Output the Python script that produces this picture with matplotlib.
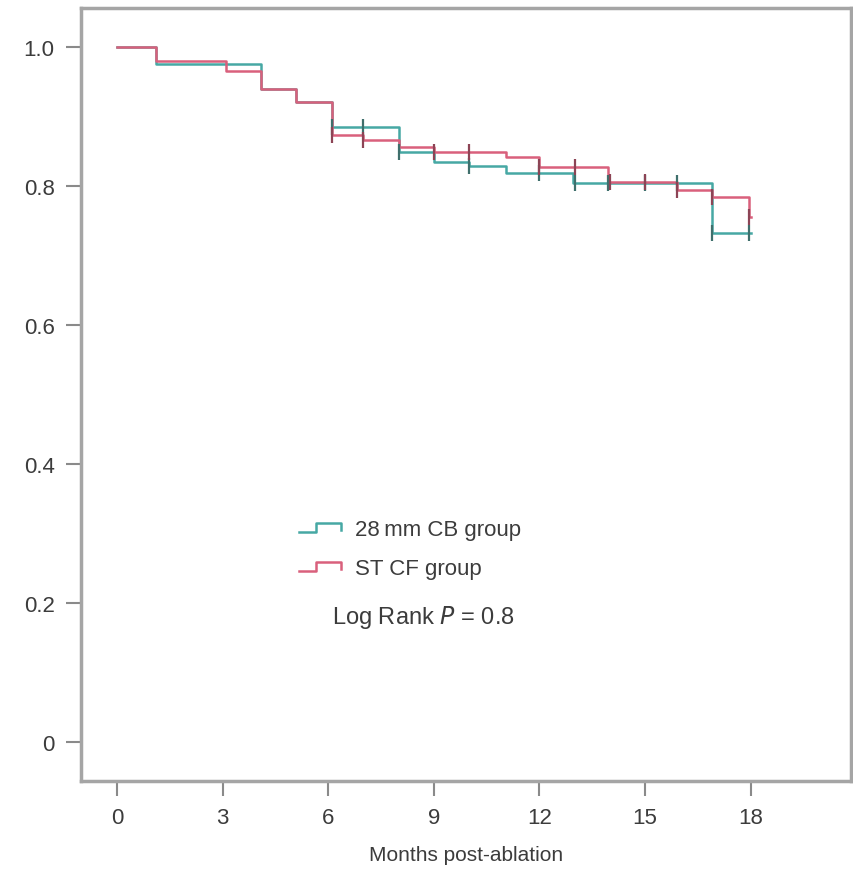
import numpy as np
import matplotlib
matplotlib.use("Agg")
import matplotlib.pyplot as plt
from matplotlib.legend_handler import HandlerBase
from matplotlib.lines import Line2D

plt.rcParams["font.family"] = ["Liberation Sans", "DejaVu Sans"]

# Kaplan-Meier steps, 28 mm cryoballoon group
cb_times = [0, 1.1, 4.1, 5.1, 6.1, 8.0, 9.0, 10.0, 11.05, 12.95, 16.9, 18.0]
cb_surv = [1.0, 0.975, 0.940, 0.921, 0.885, 0.849, 0.835, 0.829, 0.818, 0.804, 0.733, 0.733]
cb_cens_t = [6.1, 7.0, 8.0, 10.0, 12.0, 13.0, 13.95, 15.0, 15.9, 16.9, 17.95]
cb_cens_s = [0.885, 0.885, 0.849, 0.829, 0.818, 0.804, 0.804, 0.804, 0.804, 0.733, 0.733]

# Kaplan-Meier steps, ST contact-force group
cf_times = [0, 1.1, 3.1, 4.1, 5.1, 6.1, 7.0, 8.0, 9.0, 11.05, 12.0, 13.95, 15.9, 16.9, 17.95, 18.0]
cf_surv = [1.0, 0.980, 0.965, 0.940, 0.921, 0.873, 0.866, 0.856, 0.849, 0.841, 0.827, 0.806,
           0.794, 0.784, 0.755, 0.755]
cf_cens_t = [6.1, 7.0, 9.0, 10.0, 12.0, 13.0, 14.0, 15.0, 15.9, 16.9, 17.95]
cf_cens_s = [0.873, 0.866, 0.849, 0.849, 0.827, 0.827, 0.806, 0.806, 0.794, 0.784, 0.755]

x_ticks = [0, 3, 6, 9, 12, 15, 18]
y_ticks = [0, 0.2, 0.4, 0.6, 0.8, 1.0]
y_labels = ["0", "0.2", "0.4", "0.6", "0.8", "1.0"]

CB_COLOR = "#46a8a4"
CF_COLOR = "#d9607c"
TEXT = "#3c3c3c"


class StepHandler(HandlerBase):
    # little step glyph used as legend key
    def create_artists(self, legend, orig_handle, xdescent, ydescent,
                       width, height, fontsize, trans):
        xs = np.array([0.0, 0.35, 0.35, 0.85, 0.85]) * width - xdescent
        ys = np.array([0.2, 0.2, 0.8, 0.8, 0.35]) * height - ydescent
        line = Line2D(xs, ys, color=orig_handle.get_color(),
                      lw=orig_handle.get_linewidth())
        line.set_transform(trans)
        return [line]


def main():
    fig = plt.figure(figsize=(8.54, 8.70), dpi=100)
    ax = fig.add_axes([81 / 854, 88 / 870, 770 / 854, 773 / 870])

    cb_line, = ax.step(cb_times, cb_surv, where="post", color=CB_COLOR, lw=1.8,
                       label="28\u2009mm CB group")
    cf_line, = ax.step(cf_times, cf_surv, where="post", color=CF_COLOR, lw=1.8,
                       label="ST CF group")
    ax.plot(cb_cens_t, cb_cens_s, ls="none", marker="|", ms=12, mew=1.6, color="#3f6f6c")
    ax.plot(cf_cens_t, cf_cens_s, ls="none", marker="|", ms=12, mew=1.6, color="#8c4455")

    ax.set_xlim(-1.02, 20.85)
    ax.set_ylim(-0.056, 1.056)
    ax.set_xticks(x_ticks)
    ax.set_yticks(y_ticks)
    ax.set_yticklabels(y_labels)
    ax.tick_params(direction="out", length=11, width=1.5, color="#8a8a8a",
                   labelsize=16, labelcolor=TEXT, pad=8)
    for sp in ax.spines.values():
        sp.set_color("#a5a5a5")
        sp.set_linewidth(2.5)

    ax.set_xlabel("Months post-ablation", fontsize=15, color=TEXT, labelpad=12)

    ax.legend(handles=[cb_line, cf_line], handler_map={Line2D: StepHandler()},
              loc="upper left", bbox_to_anchor=(0.272, 0.35), frameon=False,
              fontsize=16, labelcolor=TEXT, handlelength=2.2, handletextpad=0.3,
              labelspacing=0.8, borderaxespad=0)
    ax.text(0.444, 0.213, "Log Rank $P$ = 0.8", transform=ax.transAxes,
            ha="center", va="center", fontsize=17, color=TEXT)

    fig.savefig("out.png", dpi=100, facecolor="white")


if __name__ == "__main__":
    main()
